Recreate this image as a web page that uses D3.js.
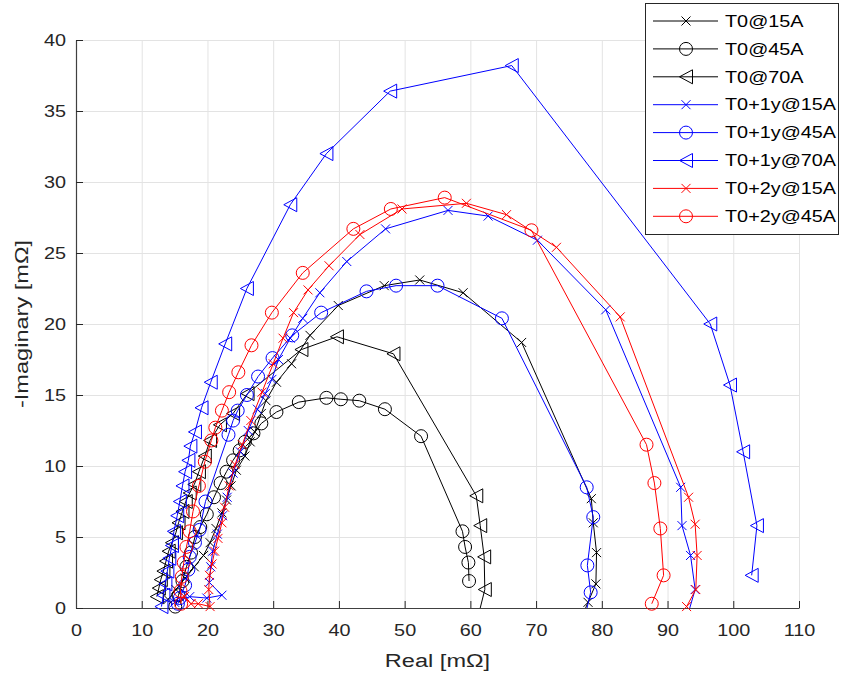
<!DOCTYPE html>
<html>
<head>
<meta charset="utf-8">
<script src="https://cdn.jsdelivr.net/npm/d3@7"></script>
<style>
  body { margin: 0; background: #fff; }
  svg { display: block; }
</style>
</head>
<body>
<div id="chart"></div>
<script>
// series: [real, -imag] in mOhm
const t0_15A = [[14.0,0.6],[15.2,1.3],[16.6,2.1],[18.0,2.9],[19.4,3.7],[20.4,4.6],[21.3,5.6],[22.2,6.7],[22.9,7.6],[23.6,8.6],[24.4,9.7],[25.7,10.7],[26.5,11.7],[27.2,12.4],[28.2,13.7],[28.9,14.6],[30.5,15.9],[32.8,17.2],[35.6,19.2],[39.9,21.3],[46.9,22.7],[52.3,23.1],[58.9,22.2],[67.8,18.7],[78.4,7.7],[78.7,6.0],[79.2,3.9],[79.1,1.7],[77.9,0.4],[77.0,-0.6]]
const t0_45A = [[15.1,0.1],[15.6,0.9],[16.2,1.9],[16.8,2.9],[17.5,3.9],[18.1,5.0],[18.9,5.7],[19.9,6.6],[21.0,7.8],[22.0,8.8],[22.9,9.6],[23.9,10.4],[24.9,11.1],[25.7,11.7],[27.0,12.3],[28.2,13.0],[30.5,13.8],[33.9,14.5],[38.1,14.8],[40.3,14.7],[43.1,14.6],[47.0,14.0],[52.5,12.1],[58.8,5.4],[59.2,4.3],[59.7,3.2],[59.8,1.9]]
const t0_70A = [[12.3,0.8],[12.6,1.4],[12.9,2.0],[13.3,2.6],[13.7,3.3],[14.1,4.0],[14.6,4.6],[15.2,5.3],[15.6,6.0],[16.2,6.8],[16.7,7.5],[17.3,8.1],[18.0,8.7],[18.7,9.6],[19.6,10.7],[20.4,11.8],[21.9,12.9],[23.9,13.7],[26.1,15.1],[34.3,18.2],[39.7,19.1],[48.3,17.9],[60.9,7.9],[61.5,5.8],[62.1,3.6],[62.2,1.3],[60.8,-1.3]]
const t1_15A = [[15.0,0.4],[17.3,0.8],[19.9,0.7],[22.2,0.9],[20.3,1.8],[20.5,2.9],[20.8,4.0],[21.5,5.2],[22.3,6.5],[23.0,7.8],[23.9,9.5],[25.0,11.0],[26.2,12.5],[27.6,14.0],[28.8,15.1],[29.8,16.1],[30.8,17.5],[32.6,19.0],[34.5,20.4],[37.1,22.2],[41.2,24.4],[47.1,26.7],[56.6,28.0],[62.7,27.6],[70.2,25.9],[80.6,21.0],[92.0,8.5],[92.2,5.8],[93.5,3.7],[94.2,1.3],[93.0,-0.6]]
const t1_45A = [[15.5,0.3],[15.8,0.7],[16.6,1.6],[17.1,2.7],[17.3,3.6],[18.1,4.6],[18.8,5.5],[19.7,7.5],[23.2,12.2],[23.9,13.2],[24.6,13.9],[26.0,15.0],[27.7,16.3],[29.9,17.6],[32.9,19.2],[37.3,20.8],[44.2,22.3],[48.7,22.7],[55.0,22.7],[64.8,20.4],[77.7,8.5],[78.7,6.4],[77.8,3.0],[78.3,1.1],[77.3,-0.9]]
const t1_70A = [[13.0,0.1],[13.3,0.9],[13.6,1.7],[13.9,2.6],[14.2,3.5],[14.6,4.4],[14.9,5.4],[15.4,6.5],[15.8,7.5],[16.2,8.6],[16.6,9.6],[17.1,10.4],[17.4,11.4],[18.1,12.4],[19.1,14.1],[20.5,15.9],[22.7,18.6],[26.0,22.5],[32.6,28.4],[38.1,32.0],[47.8,36.4],[66.3,38.2],[96.5,20.0],[99.5,15.7],[101.5,11.0],[103.6,5.8],[102.8,2.3]]
const t2_15A = [[16.5,0.8],[17.5,0.3],[18.6,0.3],[20.4,0.1],[20.2,1.3],[20.3,2.3],[20.7,3.1],[21.1,4.0],[21.6,4.9],[22.2,6.0],[22.6,7.1],[23.3,8.6],[24.2,10.1],[25.3,11.5],[26.6,13.2],[28.3,15.2],[30.0,17.2],[31.5,19.0],[33.1,20.8],[35.3,22.4],[38.5,24.1],[43.2,26.3],[49.6,28.1],[59.4,28.5],[65.5,27.7],[73.1,25.4],[82.8,20.5],[93.2,7.8],[94.2,5.9],[94.5,3.7],[94.3,1.3],[92.9,0.1]]
const t2_45A = [[16.0,0.3],[15.9,1.2],[16.1,2.2],[16.4,3.2],[16.8,4.3],[17.3,5.4],[17.8,6.8],[18.7,8.6],[19.6,10.3],[20.6,11.8],[21.2,12.7],[22.2,13.9],[23.3,15.2],[24.7,16.6],[26.7,18.5],[29.8,20.8],[34.5,23.6],[42.2,26.7],[47.9,28.1],[56.1,28.9],[69.3,26.6],[86.8,11.5],[88.0,8.8],[88.9,5.6],[89.4,2.3],[87.6,0.3]]

const seriesNames = ["T0@15A", "T0@45A", "T0@70A", "T0+1y@15A", "T0+1y@45A", "T0+1y@70A", "T0+2y@15A", "T0+2y@45A"]
const seriesData = [t0_15A, t0_45A, t0_70A, t1_15A, t1_45A, t1_70A, t2_15A, t2_45A]
const seriesColors = ["#000000", "#000000", "#000000", "#0000ff", "#0000ff", "#0000ff", "#ff0000", "#ff0000"]
const seriesMarkers = ["x", "o", "<", "x", "o", "<", "x", "o"]

const xTicks = [0, 10, 20, 30, 40, 50, 60, 70, 80, 90, 100, 110]
const yTicks = [0, 5, 10, 15, 20, 25, 30, 35, 40]

const W = 843
const H = 680
const plotL = 76, plotR = 799, plotT = 40, plotB = 608
const stretch = 1.24
const font = "'Liberation Sans', Arial, sans-serif"

const x = d3.scaleLinear().domain([0, 110]).range([plotL, plotR])
const y = d3.scaleLinear().domain([0, 40]).range([plotB, plotT])

const svg = d3.select("#chart").append("svg")
  .attr("width", W)
  .attr("height", H)

svg.append("defs").append("clipPath").attr("id", "plot-clip")
  .append("rect")
  .attr("x", plotL).attr("y", plotT)
  .attr("width", plotR - plotL).attr("height", plotB - plotT)

// grid
svg.append("g")
  .attr("transform", `translate(0,${plotB})`)
  .call(d3.axisBottom(x).tickValues(xTicks).tickSize(-(plotB - plotT)).tickFormat(""))
  .call(g => g.select(".domain").remove())
  .selectAll("line").attr("stroke", "#e3e3e3")

svg.append("g")
  .attr("transform", `translate(${plotL},0)`)
  .call(d3.axisLeft(y).tickValues(yTicks).tickSize(-(plotR - plotL)).tickFormat(""))
  .call(g => g.select(".domain").remove())
  .selectAll("line").attr("stroke", "#e3e3e3")

// axes
const xAxis = svg.append("g")
  .attr("transform", `translate(0,${plotB})`)
  .call(d3.axisBottom(x).tickValues(xTicks).tickSize(-7).tickSizeOuter(0).tickPadding(17))
const yAxis = svg.append("g")
  .attr("transform", `translate(${plotL},0)`)
  .call(d3.axisLeft(y).tickValues(yTicks).tickSize(-7).tickSizeOuter(0).tickPadding(8))

;[xAxis, yAxis].forEach(g => {
  g.select(".domain").attr("stroke", "#404040").attr("stroke-width", 1.2)
  g.selectAll(".tick line").attr("stroke", "#262626")
  g.selectAll("text")
    .attr("fill", "#262626")
    .style("font-family", font)
    .style("font-size", "16px")
    .attr("transform", `scale(${stretch},1)`)
})

svg.append("text")
  .attr("transform", `translate(${(plotL + plotR) / 2},667) scale(${stretch},1)`)
  .attr("text-anchor", "middle")
  .attr("fill", "#262626")
  .style("font-family", font)
  .style("font-size", "19px")
  .text("Real [mΩ]")

svg.append("text")
  .attr("transform", `translate(28,${(plotT + plotB) / 2}) rotate(-90) scale(${stretch},1)`)
  .attr("text-anchor", "middle")
  .attr("fill", "#262626")
  .style("font-family", font)
  .style("font-size", "19px")
  .text("-Imaginary [mΩ]")

function drawMarker(sel, type, color) {
  if (type === "o") {
    sel.append("circle").attr("r", 6.5)
      .attr("fill", "none").attr("stroke", color)
  } else if (type === "x") {
    sel.append("path").attr("d", "M-4.5,-4.5L4.5,4.5M-4.5,4.5L4.5,-4.5")
      .attr("fill", "none").attr("stroke", color)
  } else {
    sel.append("path").attr("d", "M-6.5,0L6.5,-7L6.5,7Z")
      .attr("fill", "none").attr("stroke", color)
  }
}

const line = d3.line().x(d => x(d[0])).y(d => y(d[1]))

seriesData.forEach((data, i) => {
  const g = svg.append("g")
  g.append("path")
    .attr("d", line(data))
    .attr("fill", "none")
    .attr("stroke", seriesColors[i])
    .attr("stroke-width", 1)
    .attr("clip-path", "url(#plot-clip)")

  g.selectAll("g.mk")
    .data(data.filter(d => d[1] >= 0 && d[0] >= 0 && d[0] <= 110))
    .enter()
    .append("g")
    .attr("class", "mk")
    .attr("transform", d => `translate(${x(d[0])},${y(d[1])})`)
    .each(function () { drawMarker(d3.select(this), seriesMarkers[i], seriesColors[i]) })
})

// legend
const legend = svg.append("g")
legend.append("rect")
  .attr("x", 645.5).attr("y", 3.5)
  .attr("width", 193).attr("height", 231)
  .attr("fill", "#fff").attr("stroke", "#262626").attr("stroke-width", 1)

seriesNames.forEach((name, i) => {
  const ly = 21 + i * 27.9
  const row = legend.append("g").attr("transform", `translate(0,${ly})`)
  row.append("line")
    .attr("x1", 653).attr("x2", 718)
    .attr("stroke", seriesColors[i])
  const mk = row.append("g").attr("transform", "translate(686,0)")
  drawMarker(mk, seriesMarkers[i], seriesColors[i])
  row.append("text")
    .attr("transform", `translate(725,0) scale(${stretch},1)`)
    .attr("dy", "0.36em")
    .attr("fill", "#000")
    .style("font-family", font)
    .style("font-size", "16px")
    .text(name)
})
</script>
</body>
</html>
